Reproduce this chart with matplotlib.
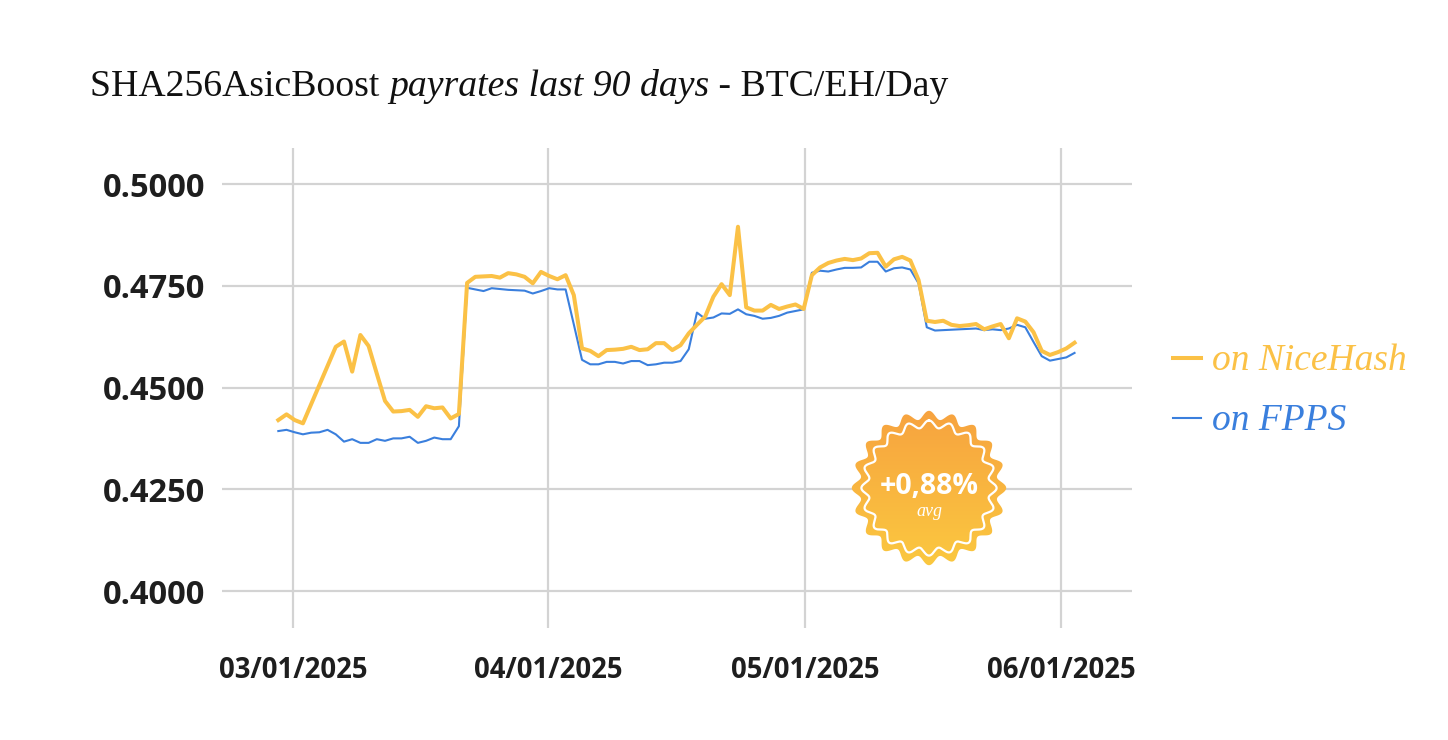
import matplotlib
matplotlib.use('Agg')
import matplotlib.pyplot as plt
import numpy as np
from matplotlib.patches import Polygon
from matplotlib.lines import Line2D

# ---------------- data ----------------
nicehash = [0.4420, 0.4434, 0.4420, 0.4412, 0.4459, 0.4506, 0.4553, 0.4600, 0.4613, 0.4539,
            0.4629, 0.4602, 0.4534, 0.4467, 0.4441, 0.4442, 0.4445, 0.4428, 0.4454, 0.4449,
            0.4451, 0.4424, 0.4435,
            0.4757, 0.4772, 0.4773, 0.4774, 0.4770, 0.4781, 0.4778, 0.4772, 0.4756, 0.4784,
            0.4774, 0.4766, 0.4776, 0.4727, 0.4596, 0.4590, 0.4577, 0.4592, 0.4593, 0.4595,
            0.4600, 0.4592, 0.4594,
            0.4609, 0.4609, 0.4592, 0.4604, 0.4633, 0.4654, 0.4674, 0.4723, 0.4754, 0.4727,
            0.4895, 0.4697, 0.4689, 0.4689, 0.4703, 0.4693, 0.4699, 0.4704, 0.4693, 0.4776,
            0.4795,
            0.4806, 0.4812, 0.4816, 0.4813, 0.4817, 0.4830, 0.4831, 0.4797, 0.4815, 0.4821,
            0.4812, 0.4764, 0.4664, 0.4661, 0.4664, 0.4654, 0.4651, 0.4653, 0.4656, 0.4643,
            0.4650,
            0.4656, 0.4621, 0.4670, 0.4662, 0.4636, 0.4590, 0.4580, 0.4587, 0.4596, 0.4610]

fpps = [0.4393, 0.4396, 0.4390, 0.4385, 0.4389, 0.4390, 0.4396, 0.4385, 0.4367, 0.4373,
        0.4364, 0.4364, 0.4373, 0.4369, 0.4375, 0.4375, 0.4379, 0.4364, 0.4369, 0.4377,
        0.4373, 0.4373, 0.4405,
        0.4745, 0.4741, 0.4737, 0.4744, 0.4742, 0.4740, 0.4739, 0.4738, 0.4731, 0.4737,
        0.4744, 0.4741, 0.4741, 0.4655, 0.4568, 0.4557, 0.4557, 0.4563, 0.4563, 0.4559,
        0.4565, 0.4565, 0.4555,
        0.4557, 0.4561, 0.4561, 0.4565, 0.4594, 0.4684, 0.4669, 0.4672, 0.4682, 0.4681,
        0.4692, 0.4680, 0.4676, 0.4669, 0.4671, 0.4676, 0.4684, 0.4688, 0.4692, 0.4782,
        0.4787,
        0.4785, 0.4790, 0.4794, 0.4794, 0.4795, 0.4809, 0.4809, 0.4785, 0.4793, 0.4795,
        0.4790, 0.4756, 0.4648, 0.4640, 0.4641, 0.4642, 0.4643, 0.4644, 0.4645, 0.4641,
        0.4643,
        0.4641, 0.4645, 0.4654, 0.4648, 0.4612, 0.4577, 0.4566, 0.4570, 0.4574, 0.4585]

y_ticks = [0.4000, 0.4250, 0.4500, 0.4750, 0.5000]
x_tick_labels = ['03/01/2025', '04/01/2025', '05/01/2025', '06/01/2025']
series_labels = ['on NiceHash', 'on FPPS']
badge_value = '+0,88%'
badge_sub = 'avg'

# layout (not data)
x_tick_pos = [1.79, 32.85, 64.15, 95.33]

ORANGE = '#FBC146'
BLUE = '#3A7FDD'
GRID = '#d3d3d3'
TXT = '#1e1e1e'

W, H = 1448, 740
fig = plt.figure(figsize=(W / 100, H / 100), dpi=100)
fig.patch.set_facecolor('white')


def fx(px):
    return px / W


def fy(py):
    return 1 - py / H


ax = fig.add_axes([fx(222), fy(628), fx(1132) - fx(222), fy(148) - fy(628)])
x = np.arange(len(nicehash))
ax.set_xlim(-6.86, 104.0)
ax.set_ylim(0.39091, 0.50885)

for yt in y_ticks:
    ax.axhline(yt, color=GRID, lw=1.6, zorder=1)
for xt in x_tick_pos:
    ax.axvline(xt, color=GRID, lw=1.6, zorder=1)

ax.plot(x, fpps, color=BLUE, lw=1.5, zorder=3, solid_joinstyle='round')
ax.plot(x, nicehash, color=ORANGE, lw=2.9, zorder=4, solid_joinstyle='round')

ax.set_yticks(y_ticks)
ax.set_yticklabels([f'{v:.4f}' for v in y_ticks])
ax.set_xticks(x_tick_pos)
ax.set_xticklabels(x_tick_labels)
ax.tick_params(length=0, labelcolor=TXT)
ax.tick_params(axis='x', pad=20, labelsize=19.8)
ax.tick_params(axis='y', pad=12, labelsize=23.5)
for lab in ax.get_xticklabels() + ax.get_yticklabels():
    lab.set_fontfamily('Open Sans')
    lab.set_fontweight('bold')
for s in ax.spines.values():
    s.set_visible(False)
ax.set_facecolor('none')

# ---------------- title (mixed upright / italic) ----------------
serif = ['Liberation Serif', 'DejaVu Serif']
parts = [('SHA256AsicBoost ', 'normal'), ('payrates last 90 days', 'italic'), (' - BTC/EH/Day', 'normal')]
fig.canvas.draw()
renderer = fig.canvas.get_renderer()
xpos = 90
for txt, style in parts:
    t = fig.text(fx(xpos), fy(96), txt, fontsize=27.2, family=serif, style=style,
                 color='#111111', va='baseline', ha='left')
    bb = t.get_window_extent(renderer=renderer)
    xpos += bb.width

# ---------------- legend ----------------
fig.add_artist(Line2D([fx(1173), fx(1201)], [fy(358), fy(358)], color=ORANGE, lw=2.9))
fig.add_artist(Line2D([fx(1173), fx(1201)], [fy(418), fy(418)], color=BLUE, lw=1.5))
fig.text(fx(1212), fy(370), series_labels[0], fontsize=27, family=serif, style='italic',
         color=ORANGE, va='baseline', ha='left')
fig.text(fx(1212), fy(430), series_labels[1], fontsize=27, family=serif, style='italic',
         color=BLUE, va='baseline', ha='left')

# ---------------- badge ----------------
cx, cy, R = 929, 488, 82
bax = fig.add_axes([fx(cx - R), fy(cy + R), 2 * R / W, 2 * R / H])
bax.set_xlim(-R, R)
bax.set_ylim(-R, R)
bax.axis('off')
th = np.linspace(0, 2 * np.pi, 1200)
r_out = 73 + 4.2 * np.cos(20 * th)
outer = Polygon(np.column_stack([r_out * np.sin(th), r_out * np.cos(th)]), closed=True,
                facecolor='none', edgecolor='none')
bax.add_patch(outer)
grad = np.linspace(0, 1, 256)[:, None]
c_top = np.array([0xF7, 0xA2, 0x3F]) / 255
c_bot = np.array([0xFB, 0xC9, 0x40]) / 255
img = c_top[None, None, :] * (1 - grad[:, :, None]) + c_bot[None, None, :] * grad[:, :, None]
img = np.repeat(img, 2, axis=1)
im = bax.imshow(img, extent=(-R, R, -R, R), origin='upper', aspect='auto', zorder=1)
im.set_clip_path(outer)
r_in = 64 + 3.6 * np.cos(20 * th)
bax.plot(r_in * np.sin(th), r_in * np.cos(th), color='white', lw=1.6, zorder=2)
bax.text(0, 1, badge_value, color='white', fontsize=20.5, fontweight='bold', family='Open Sans',
         ha='center', va='center', zorder=3)
bax.text(0, -24, badge_sub, color='white', fontsize=13, family=serif, style='italic',
         ha='center', va='center', zorder=3)

fig.savefig('out.png', dpi=100)
